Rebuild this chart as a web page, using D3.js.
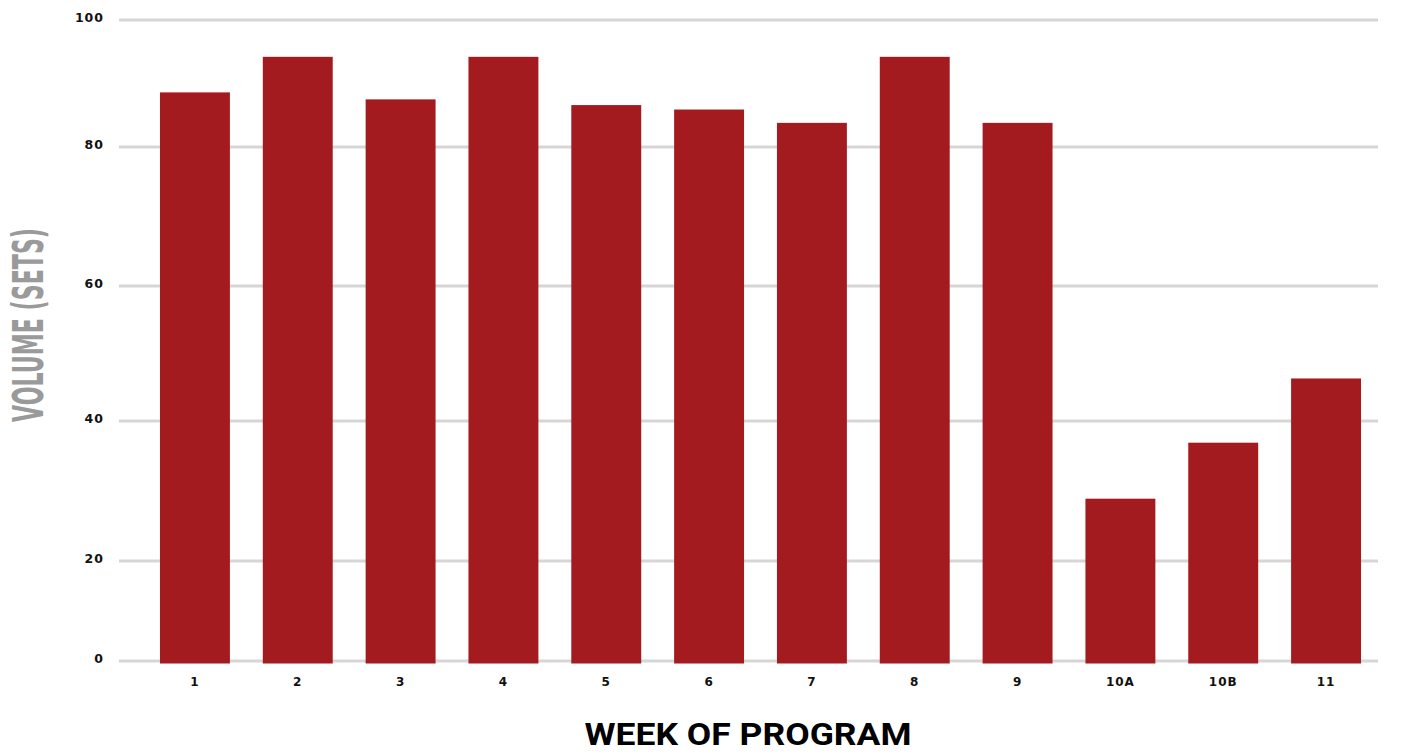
<!DOCTYPE html>
<html>
<head>
<meta charset="utf-8">
<script src="https://cdn.jsdelivr.net/npm/d3@7"></script>
<style>
  body { margin: 0; background: #fff; }
  .tick-label { font-family: "DejaVu Sans", sans-serif; font-weight: bold; fill: #111; letter-spacing: 1px; }
</style>
</head>
<body>
<div id="content"></div>
<script>
// Chart size
const width = 1410;
const height = 755;

// Data
const weeks = ["1", "2", "3", "4", "5", "6", "7", "8", "9", "10A", "10B", "11"];
const volumes = [88.6, 94.2, 87.5, 94.2, 86.6, 85.9, 83.8, 94.2, 83.8, 28.9, 36.9, 46.3];
const yTicks = [0, 20, 40, 60, 80, 100];
// the reference axis is not evenly spaced, so the scale is piecewise
const yTickPos = [661, 561, 421, 286, 147, 20];

const x = d3.scaleBand()
  .domain(weeks)
  .range([142.5, 1378.5])
  .paddingInner(0.32)
  .paddingOuter(0.17);

const y = d3.scaleLinear()
  .domain(yTicks)
  .range(yTickPos);

const svg = d3.select("#content")
  .append("svg")
  .attr("width", width)
  .attr("height", height);

// Gridlines
svg.append("g")
  .selectAll("line")
  .data(yTicks)
  .join("line")
  .attr("x1", 119)
  .attr("x2", 1378)
  .attr("y1", d => y(d))
  .attr("y2", d => y(d))
  .attr("stroke", "#d6d6d6")
  .attr("stroke-width", 3);

// Y tick labels
svg.append("g")
  .selectAll("text")
  .data(yTicks)
  .join("text")
  .attr("class", "tick-label")
  .attr("x", 104)
  .attr("y", d => y(d) + 2)
  .attr("text-anchor", "end")
  .attr("font-size", 12.5)
  .text(d => d);

// Bars
svg.append("g")
  .selectAll("rect")
  .data(weeks)
  .join("rect")
  .attr("x", d => x(d))
  .attr("width", x.bandwidth())
  .attr("y", (d, i) => y(volumes[i]))
  .attr("height", (d, i) => y(0) + 2.5 - y(volumes[i]))
  .attr("fill", "#a31a1f");

// X tick labels
svg.append("g")
  .selectAll("text")
  .data(weeks)
  .join("text")
  .attr("class", "tick-label")
  .attr("x", d => x(d) + x.bandwidth() / 2)
  .attr("y", 686)
  .attr("text-anchor", "middle")
  .attr("font-size", 12)
  .text(d => d);

// Axis titles
svg.append("text")
  .attr("x", 748)
  .attr("y", 745)
  .attr("text-anchor", "middle")
  .attr("font-family", "Roboto, sans-serif")
  .attr("font-weight", "bold")
  .attr("font-size", 31)
  .attr("textLength", 327)
  .attr("lengthAdjust", "spacingAndGlyphs")
  .attr("fill", "#000")
  .text("WEEK OF PROGRAM");

svg.append("text")
  .attr("transform", "translate(43,325) rotate(-90)")
  .attr("text-anchor", "middle")
  .attr("font-family", "'Liberation Sans Narrow', 'DejaVu Sans Condensed', sans-serif")
  .attr("font-weight", "bold")
  .attr("font-size", 42)
  .attr("textLength", 194)
  .attr("lengthAdjust", "spacingAndGlyphs")
  .attr("fill", "#9a9a9a")
  .text("VOLUME (SETS)");
</script>
</body>
</html>
